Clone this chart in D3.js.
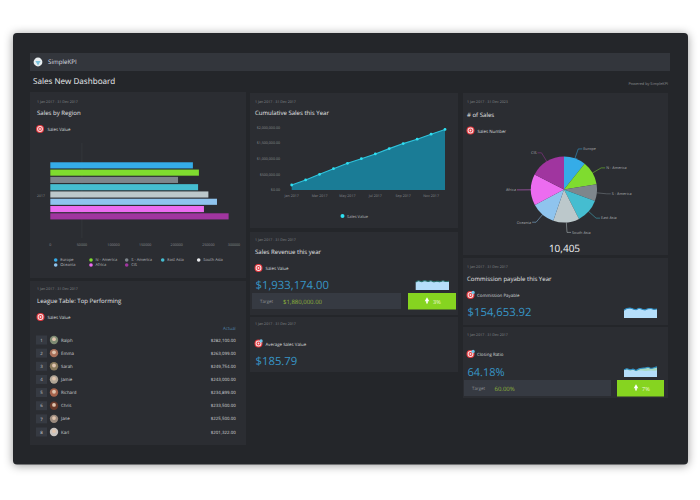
<!DOCTYPE html>
<html>
<head>
<meta charset="utf-8">
<script src="https://cdn.jsdelivr.net/npm/d3@7"></script>
<style>
  html, body { margin: 0; padding: 0; background: #fff; overflow: hidden; }
  svg { display: block; }
  text { font-family: "Open Sans", sans-serif; text-rendering: geometricPrecision; }
</style>
</head>
<body>
<svg id="chart" width="700" height="500"></svg>
<script>
// Chart data
const regions = ['Europe', 'N - America', 'S - America', 'East Asia', 'South Asia', 'Oceania', 'Africa', 'CIS'];
const regionColors = ['#35ace8', '#7fdc2f', '#7e868c', '#45bdd0', '#bcc8cb', '#8fc4ee', '#ec6cf0', '#a0359f'];
const regionSales = [225500, 235000, 202000, 233700, 250000, 263600, 243000, 282000];
const barTicks = [0, 50000, 100000, 150000, 200000, 250000, 300000];

const months = ['Jan 2017', 'Feb 2017', 'Mar 2017', 'Apr 2017', 'May 2017', 'Jun 2017', 'Jul 2017', 'Aug 2017', 'Sep 2017', 'Oct 2017', 'Nov 2017', 'Dec 2017'];
const cumulativeSales = [160000, 320000, 500000, 680000, 850000, 1000000, 1150000, 1320000, 1480000, 1620000, 1780000, 1933000];
const cumulativeTicks = [0, 500000, 1000000, 1500000, 2000000];

const salesCounts = [1118, 1223, 855, 1225, 1330, 1243, 1590, 1821];

const leagueNames = ['Ralph', 'Emma', 'Sarah', 'Jamie', 'Richard', 'Chris', 'Jane', 'Karl'];
const leagueValues = ['$282,100.00', '$263,099.00', '$249,754.00', '$243,000.00', '$234,899.00', '$233,500.00', '$225,500.00', '$201,322.00'];
const avatarColors = ['#7d8a72', '#a8705a', '#8a7a5c', '#b0a596', '#a5634c', '#6b3a2a', '#9a8a7e', '#c9c4c0'];

const revenueSpark = [8, 9.2, 8.4, 9.4, 8.6, 9.2, 8.2, 8.8, 8.4, 9.2, 8.5, 8.7];
const commissionSpark = [7, 8.6, 9, 8.2, 7.6, 8.8, 8, 7.4, 8.4, 8.6, 7.8, 8.2];
const closingSpark = [6.4, 7.4, 6.6, 7.2, 6, 7.4, 8, 8.2, 8.8, 7.8, 8.4, 9.2];
const closingTargetSpark = [6.2, 6.6, 5.6, 6.4, 5.2, 6, 5.8, 5.4, 5.6, 6, 5.6, 6.2];

const titleSize = 6.05;
const svg = d3.select('#chart');

function label(x, y, str, size, fill, anchor) {
  return svg.append('text')
    .attr('x', x)
    .attr('y', y)
    .attr('text-anchor', anchor || 'start')
    .style('font-size', size + 'px')
    .attr('fill', fill)
    .text(str);
}

function panel(x, y, w, h) {
  svg.append('rect')
    .attr('x', x).attr('y', y)
    .attr('width', w).attr('height', h)
    .attr('fill', '#2b2d32');
}

// Round red target badge used next to each KPI name
function targetIcon(cx, cy, badge) {
  [[4, '#e8383f'], [2.9, '#f4e6e6'], [1.9, '#e8383f'], [0.9, '#f4e6e6']].forEach(d => {
    svg.append('circle').attr('cx', cx).attr('cy', cy).attr('r', d[0]).attr('fill', d[1]);
  });
  if (badge) {
    svg.append('circle').attr('cx', cx + 2.6).attr('cy', cy - 2.6).attr('r', 1.6).attr('fill', '#6fc6ea');
  }
}

function sparkline(x0, x1, yTop, yBottom, values, fill, lineColor) {
  const x = d3.scaleLinear().domain([0, values.length - 1]).range([x0, x1]);
  const y = d3.scaleLinear().domain([0, 10]).range([yBottom, yTop]);
  svg.append('path')
    .attr('d', d3.area().x((d, i) => x(i)).y0(yBottom).y1(d => y(d)).curve(d3.curveMonotoneX)(values))
    .attr('fill', fill);
  if (lineColor) {
    svg.append('path')
      .attr('d', d3.line().x((d, i) => x(i)).y(d => y(d)).curve(d3.curveMonotoneX)(values))
      .attr('fill', 'none')
      .attr('stroke', lineColor)
      .attr('stroke-width', 1.1);
  }
}

function targetBar(x, y, w, valueX, value, btnX, btnW, pct) {
  svg.append('rect').attr('x', x).attr('y', y).attr('width', w).attr('height', 16).attr('fill', '#363a42');
  label(x + 8, y + 10, 'Target', 4.4, '#8d9196');
  label(valueX, y + 10.5, value, 6, '#8fb43a');
  svg.append('rect').attr('x', btnX).attr('y', y).attr('width', btnW).attr('height', 16.5).attr('fill', '#86d420');
  svg.append('path')
    .attr('d', d3.symbol().type(d3.symbolTriangle).size(9)())
    .attr('transform', `translate(${btnX + 19},${y + 7})`)
    .attr('fill', '#fff');
  svg.append('rect').attr('x', btnX + 18.2).attr('y', y + 7.5).attr('width', 1.6).attr('height', 3).attr('fill', '#fff');
  label(btnX + 25, y + 10.5, pct, 5.6, '#eef8d8');
}

// Outer frame
svg.append('rect')
  .attr('x', 13).attr('y', 33)
  .attr('width', 675).attr('height', 431.5)
  .attr('rx', 4)
  .attr('fill', '#24262a')
  .style('filter', 'drop-shadow(0 1px 5px rgba(0,0,0,0.4))');

// Header bar
svg.append('rect')
  .attr('x', 30).attr('y', 53)
  .attr('width', 640).attr('height', 18)
  .attr('fill', '#33363c');
svg.append('circle')
  .attr('cx', 38).attr('cy', 62).attr('r', 4.4)
  .attr('fill', '#e9eef0');
svg.append('path')
  .attr('d', d3.symbol().type(d3.symbolTriangle).size(12)())
  .attr('transform', 'translate(38,62.5) rotate(180)')
  .attr('fill', '#7cc2dc');
label(48, 64, 'SimpleKPI', 6.2, '#dcdee0');
label(33, 83.5, 'Sales New Dashboard', 8.1, '#eceef0');
label(668, 85, 'Powered by SimpleKPI', 3.8, '#8a8d90', 'end');

// Panels
panel(30, 92, 216, 186);
panel(30, 281, 216, 164);
panel(250, 93, 208, 135);
panel(250, 232, 208, 83);
panel(250, 317, 208, 55);
panel(463, 93, 205, 162);
panel(463, 258, 205, 67);
panel(463, 327, 205, 71);

// Sales by Region
label(37, 102.5, '1 Jan 2017 - 31 Dec 2017', 3.6, '#85888c');
label(37, 115, 'Sales by Region', titleSize, '#e4e6e8');
targetIcon(40, 129);
label(47.5, 131, 'Sales Value', 4.4, '#d4d6d8');

const barX = d3.scaleLinear().domain([0, 300000]).range([50.3, 240]);
const barY = d3.scaleBand().domain(regions).range([161.7, 220]).paddingInner(0.16).paddingOuter(0.08);

svg.append('line')
  .attr('x1', barX(50000)).attr('x2', barX(50000))
  .attr('y1', 143).attr('y2', 238)
  .attr('stroke', '#3a3d42').attr('stroke-width', 0.6);

regions.forEach((r, i) => {
  svg.append('rect')
    .attr('x', barX(0))
    .attr('y', barY(r))
    .attr('width', barX(regionSales[i]) - barX(0))
    .attr('height', barY.bandwidth())
    .attr('fill', regionColors[i]);
});

label(41, 197, '2017', 3.4, '#85888c', 'middle');
barTicks.forEach(t => {
  label(t === 300000 ? barX(t) - 6 : barX(t), 246, String(t), 3.6, '#85888c', 'middle');
});

// Legend is laid out in the two rows used by the reference
const legendX = [55.7, 91, 126.7, 162.7, 198.7, 55.7, 91, 126.7];
regions.forEach((r, i) => {
  const y = i < 5 ? 260 : 265;
  svg.append('circle').attr('cx', legendX[i]).attr('cy', y).attr('r', 1.8).attr('fill', regionColors[i] === '#bcc8cb' ? '#e8eaec' : regionColors[i]);
  label(legendX[i] + 4.5, y + 1.4, r, 4, '#b8babd');
});

// League table
label(37, 290, '1 Jan 2017 - 31 Dec 2017', 3.6, '#85888c');
label(37, 303, 'League Table: Top Performing', titleSize, '#e4e6e8');
targetIcon(40.5, 317);
label(47.5, 319, 'Sales Value', 4.4, '#d4d6d8');
label(235.7, 330, 'Actual', 4.4, '#4f81a8', 'end');

const rowY = d3.scalePoint().domain(leagueNames).range([340, 432]);
leagueNames.forEach((name, i) => {
  const y = rowY(name);
  svg.append('rect').attr('x', 36).attr('y', y - 4.5).attr('width', 11).attr('height', 9).attr('fill', '#363a42');
  label(41.5, y + 1.7, String(i + 1), 4.4, '#c8cacc', 'middle');
  svg.append('circle').attr('cx', 54).attr('cy', y).attr('r', 4.2).attr('fill', avatarColors[i]);
  svg.append('circle').attr('cx', 54).attr('cy', y - 0.8).attr('r', 1.9).attr('fill', '#e0c4ae');
  label(61, y + 1.5, name, 4.4, '#cfd1d3');
  label(235.7, y + 1.5, leagueValues[i], 4.4, '#cfd1d3', 'end');
});

// Cumulative Sales this Year
label(255, 102.5, '1 Jan 2017 - 31 Dec 2017', 3.6, '#85888c');
label(255, 115, 'Cumulative Sales this Year', titleSize, '#e4e6e8');

const lineX = d3.scalePoint().domain(months).range([291.7, 445]);
const lineY = d3.scaleLinear().domain([0, 2000000]).range([190, 127.3]);

svg.append('path')
  .attr('d', d3.area().x((d, i) => lineX(months[i])).y0(lineY(0)).y1(d => lineY(d))(cumulativeSales))
  .attr('fill', '#1a7c96');
svg.append('path')
  .attr('d', d3.line().x((d, i) => lineX(months[i])).y(d => lineY(d))(cumulativeSales))
  .attr('fill', 'none')
  .attr('stroke', '#2fc3dc')
  .attr('stroke-width', 1.1);
cumulativeSales.forEach((d, i) => {
  svg.append('circle')
    .attr('cx', lineX(months[i]))
    .attr('cy', lineY(d))
    .attr('r', 1.4)
    .attr('fill', '#2ee0f2');
});

const moneyFormat = d3.format('$,.2f');
cumulativeTicks.forEach(t => {
  label(280, lineY(t) + 1.3, moneyFormat(t), 3.6, '#85888c', 'end');
});
months.forEach((m, i) => {
  if (i % 2 === 0) label(lineX(m), 197, m, 3.6, '#85888c', 'middle');
});
svg.append('circle').attr('cx', 342.5).attr('cy', 216).attr('r', 2).attr('fill', '#2ee0f2');
label(347, 217.6, 'Sales Value', 4, '#b8babd');

// Sales Revenue this year
label(255, 241, '1 Jan 2017 - 31 Dec 2017', 3.6, '#85888c');
label(255, 254, 'Sales Revenue this year', titleSize, '#e4e6e8');
targetIcon(258.5, 268);
label(265.5, 270, 'Sales Value', 4.4, '#d4d6d8');
label(255.5, 289, '$1,933,174.00', 11.3, '#3795c6');
sparkline(415.7, 449, 280, 290, revenueSpark, '#b5defa', '#2a6f6a');
targetBar(252, 293, 149, 283, '$1,880,000.00', 408, 48, '3%');

// Average Sales Value
label(255, 325, '1 Jan 2017 - 31 Dec 2017', 3.6, '#85888c');
targetIcon(258.5, 343.5, true);
label(265.5, 345.5, 'Average Sales Value', 4.4, '#d4d6d8');
label(255.5, 365, '$185.79', 11.3, '#3795c6');

// # of Sales pie
label(467, 103, '1 Jan 2017 - 31 Dec 2023', 3.6, '#85888c');
label(467, 117, '# of Sales', titleSize, '#e4e6e8');
targetIcon(470.5, 130.5);
label(477.5, 132.5, 'Sales Number', 4.4, '#d4d6d8');

const pieCx = 564, pieCy = 189.5, pieR = 33;
const pieArcs = d3.pie().sort(null)(salesCounts);
const sliceArc = d3.arc().innerRadius(0).outerRadius(pieR);
const stemStart = d3.arc().innerRadius(pieR).outerRadius(pieR);
const stemEnd = d3.arc().innerRadius(43).outerRadius(43);
const pieG = svg.append('g').attr('transform', `translate(${pieCx},${pieCy})`);

pieG.selectAll('path.slice')
  .data(pieArcs)
  .join('path')
  .attr('class', 'slice')
  .attr('d', sliceArc)
  .attr('fill', (d, i) => regionColors[i]);

pieArcs.forEach((d, i) => {
  const a = stemStart.centroid(d);
  const b = stemEnd.centroid(d);
  const right = b[0] >= 0;
  const c = [b[0] + (right ? 4 : -4), b[1]];
  pieG.append('path')
    .attr('d', d3.line()([a, b, c]))
    .attr('fill', 'none')
    .attr('stroke', regionColors[i])
    .attr('stroke-width', 0.5);
  pieG.append('text')
    .attr('x', c[0] + (right ? 1 : -1))
    .attr('y', c[1] + 1.3)
    .attr('text-anchor', right ? 'start' : 'end')
    .style('font-size', '3.8px')
    .attr('fill', '#a8aaad')
    .text(regions[i]);
});
label(564.5, 252, '10,405', 10, '#f0f1f2', 'middle');

// Commission payable this Year
label(467, 268, '1 Jan 2017 - 31 Dec 2017', 3.6, '#85888c');
label(467, 281, 'Commission payable this Year', titleSize, '#e4e6e8');
targetIcon(470.5, 295, true);
label(477, 297, 'Commission Payable', 4.4, '#d4d6d8');
label(467.5, 316, '$154,653.92', 11.3, '#3795c6');
sparkline(624, 657, 307, 318, commissionSpark, '#b5defa', '#2f8fc4');

// Closing Ratio
label(467, 336, '1 Jan 2017 - 31 Dec 2017', 3.6, '#85888c');
targetIcon(470.5, 354, true);
label(477, 356, 'Closing Ratio', 4.4, '#d4d6d8');
label(467.5, 376, '64.18%', 11, '#3795c6');
sparkline(624, 657, 366, 377, closingSpark, '#a6d8c4', '#2f8fc4');
sparkline(624, 657, 366, 377, closingTargetSpark, '#b5defa', null);
targetBar(464, 380, 147, 494.5, '60.00%', 617, 47, '7%');
</script>
</body>
</html>
